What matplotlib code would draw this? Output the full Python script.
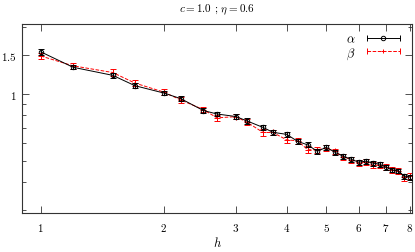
import numpy as np
import matplotlib
matplotlib.use("Agg")
import matplotlib.pyplot as plt
from matplotlib.ticker import FixedLocator, NullFormatter, NullLocator
from matplotlib.lines import Line2D
from matplotlib.legend_handler import HandlerLine2D, HandlerTuple

plt.rcParams['font.family'] = 'serif'
plt.rcParams['font.serif'] = ['cmr10', 'DejaVu Serif']
plt.rcParams['mathtext.fontset'] = 'cm'
plt.rcParams['axes.unicode_minus'] = False

h = [1.0, 1.2, 1.5, 1.7, 2.0, 2.2, 2.5, 2.7, 3.0, 3.2, 3.5, 3.7, 4.0, 4.25,
     4.5, 4.75, 5.0, 5.25, 5.5, 5.75, 6.0, 6.25, 6.5, 6.75, 7.0, 7.25, 7.5,
     7.75, 8.0]

alpha = [1.55, 1.32, 1.214, 1.09, 1.01, 0.953, 0.842, 0.812, 0.791, 0.755,
         0.706, 0.671, 0.657, 0.611, 0.589, 0.551, 0.574, 0.545, 0.523, 0.507,
         0.492, 0.497, 0.487, 0.482, 0.467, 0.453, 0.449, 0.426, 0.421]
alpha_err = [0.045, 0.03, 0.03, 0.03, 0.025, 0.025, 0.02, 0.02, 0.018, 0.02,
             0.02, 0.018, 0.016, 0.015, 0.015, 0.015, 0.014, 0.014, 0.013, 0.013,
             0.012, 0.012, 0.012, 0.012, 0.012, 0.011, 0.011, 0.011, 0.011]

beta = [1.485, 1.34, 1.25, 1.12, 1.02, 0.94, 0.85, 0.78, 0.79, 0.745,
        0.67, 0.67, 0.62, 0.615, 0.56, 0.56, 0.57, 0.55, 0.52, 0.505,
        0.487, 0.495, 0.477, 0.477, 0.468, 0.455, 0.45, 0.42, 0.425]
beta_err = [0.05, 0.045, 0.04, 0.035, 0.03, 0.03, 0.025, 0.025, 0.022, 0.024,
            0.022, 0.02, 0.02, 0.02, 0.02, 0.018, 0.017, 0.017, 0.016, 0.016,
            0.015, 0.015, 0.015, 0.015, 0.014, 0.014, 0.014, 0.014, 0.014]

xticks = [1, 2, 3, 4, 5, 6, 7, 8]
yticks = [1.0, 1.5]
yticklabels = ['1', '1.5']
yminor = [0.3, 0.4, 0.5, 0.6, 0.7, 0.8, 0.9, 2.0]

fig = plt.figure(figsize=(4.15, 2.53), dpi=100)
ax = fig.add_axes([22 / 415, 39 / 253, 390 / 415, 189 / 253])

ax.errorbar(h, alpha, yerr=alpha_err, color='black', lw=0.7, elinewidth=0.7,
            capsize=2.2, capthick=0.7, marker='o', ms=3.2, mfc='none', mew=0.7,
            zorder=3)
eb = ax.errorbar(h, beta, yerr=beta_err, color='red', lw=0.7, ls='--',
                 elinewidth=0.7, capsize=2.2, capthick=0.7, marker='+', ms=4,
                 mew=0.7, zorder=2)
eb[-1][0].set_linestyle('--')

ax.set_xscale('log')
ax.set_yscale('log')
ax.set_xlim(0.9, 8.1)
ax.set_ylim(0.29, 2.07)

ax.xaxis.set_major_locator(FixedLocator(xticks))
ax.xaxis.set_minor_locator(NullLocator())
ax.set_xticklabels([f'${t}$' for t in xticks])
ax.yaxis.set_major_locator(FixedLocator(yticks))
ax.set_yticklabels([f'${t}$' for t in yticklabels])
ax.yaxis.set_minor_locator(FixedLocator(yminor))
ax.yaxis.set_minor_formatter(NullFormatter())

ax.tick_params(which='both', direction='in', top=True, right=True,
               labelsize=8, color='#333333')
ax.tick_params(axis='x', pad=6)
ax.tick_params(axis='y', pad=4)
ax.tick_params(which='major', length=5, width=0.6)
ax.tick_params(which='minor', length=3, width=0.6)
for s in ax.spines.values():
    s.set_linewidth(0.8)
    s.set_color('#333333')

ax.set_xlabel(r'$h$', fontsize=9, labelpad=1)
ax.set_title(r'$c = 1.0$ ; $\eta = 0.6$', fontsize=8, pad=9)

# gnuplot-style legend keys: horizontal bar with end caps and a centre marker
def key(color, ls, marker, mfc):
    caps = Line2D([], [], color=color, ls=ls, lw=0.7, marker='|', ms=5, mew=0.7)
    mid = Line2D([], [], color=color, ls='none', marker=marker, ms=3.2,
                 mfc=mfc, mew=0.7)
    return caps, mid

a_caps, a_mid = key('black', '-', 'o', 'none')
b_caps, b_mid = key('red', '--', '+', 'red')
ax.legend([(a_caps, a_mid), (b_caps, b_mid)], [r'$\alpha$', r'$\beta$'],
          loc='upper right', frameon=False, markerfirst=False, fontsize=9,
          handlelength=3.2, borderaxespad=0.3, labelspacing=0.05,
          handletextpad=0.6,
          handler_map={a_caps: HandlerLine2D(numpoints=2),
                       b_caps: HandlerLine2D(numpoints=2),
                       a_mid: HandlerLine2D(numpoints=1),
                       b_mid: HandlerLine2D(numpoints=1),
                       tuple: HandlerTuple(ndivide=1)})

fig.savefig('out.png', dpi=100)
